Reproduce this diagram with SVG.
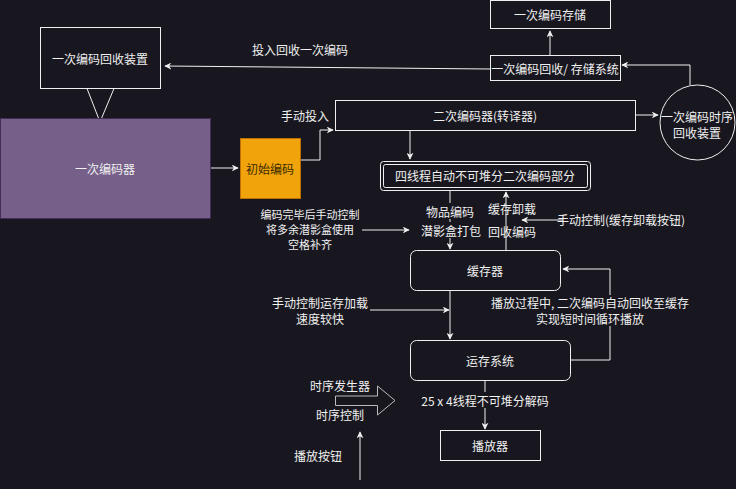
<svg xmlns="http://www.w3.org/2000/svg" width="736" height="489" viewBox="0 0 736 489">
<defs>
<marker id="arr" viewBox="0 0 10 10" refX="9" refY="5" markerWidth="7" markerHeight="7" orient="auto-start-reverse" markerUnits="userSpaceOnUse">
<path d="M0,0 L10,5 L0,10 L3,5 Z" fill="#f0f0f0"/>
</marker>
<style>
text{font-family:"Noto Sans CJK SC","Noto Sans",sans-serif;font-size:12px;fill:#f0f0f0;text-anchor:middle;dominant-baseline:central}
.sm{font-size:11px}
.box{fill:#18171f;stroke:#f0f0f0;stroke-width:1}
.edge{fill:none;stroke:#f0f0f0;stroke-width:1;marker-end:url(#arr)}
.line{fill:none;stroke:#f0f0f0;stroke-width:1}
.lbg{fill:#18171f}
</style>
</defs>
<rect width="736" height="489" fill="#18171f"/>

<g id="connectors">
<path class="edge" d="M550,55 L550,31"/>
<path class="edge" d="M490,69 L165,66" stroke="#cccccc"/>
<path class="edge" d="M210,168 L238,168"/>
<path class="edge" d="M300,160 L320,160 L320,130 L333,130"/>
<path class="edge" d="M636,115 L658,115"/>
<path class="edge" d="M690,85 L690,65 L622,65"/>
<path class="edge" d="M410,130 L410,159"/>
<path class="edge" d="M450,190 L450,249"/>
<path class="edge" d="M506,250 L506,192"/>
<path class="edge" d="M563,220 L522,220"/>
<path class="edge" d="M362,230 L409,230"/>
<path class="edge" d="M450,290 L450,339"/>
<path class="edge" d="M370,310 L449,310"/>
<path class="edge" d="M570,360 L610,360 L610,269 L563,269"/>
<path class="edge" d="M485,380 L485,429"/>
<path class="edge" d="M360,480 L360,432"/>
<rect class="lbg" x="426" y="203" width="48" height="16"/>
<text x="450" y="211">物品编码</text>
<rect class="lbg" x="421" y="222" width="60" height="16"/>
<text x="451" y="230">潜影盒打包</text>
<text x="512" y="208">缓存卸载</text>
<text x="512" y="231">回收编码</text>
<text x="300" y="49">投入回收一次编码</text>
<text x="305" y="115">手动投入</text>
<text x="621" y="219">手动控制(缓存卸载按钮)</text>
<text class="sm" x="310" y="214"><tspan x="310" y="214">编码完毕后手动控制</tspan><tspan x="310" y="229">将多余潜影盒使用</tspan><tspan x="310" y="244">空格补齐</tspan></text>
<text x="320" y="302"><tspan x="320" y="302">手动控制运存加载</tspan><tspan x="320" y="318">速度较快</tspan></text>
<rect class="lbg" x="497" y="295" width="186" height="31"/>
<text x="590" y="302"><tspan x="590" y="302">播放过程中, 二次编码自动回收至缓存</tspan><tspan x="590" y="318">实现短时间循环播放</tspan></text>
<rect class="lbg" x="426" y="392" width="119" height="16"/>
<text x="485" y="400">25 x 4线程不可堆分解码</text>
<text x="340" y="385">时序发生器</text>
<text x="340" y="414">时序控制</text>
<text x="318" y="455">播放按钮</text>
</g>

<g id="storage">
<rect class="box" x="490.5" y="0.5" width="120" height="28"/>
<text x="550" y="14">一次编码存储</text>
</g>
<g id="recycle-system">
<rect class="box" x="490.5" y="55.5" width="130" height="25"/>
<text x="555" y="68">一次编码回收/ 存储系统</text>
</g>
<g id="recycle-device">
<rect class="box" x="40.5" y="27.5" width="120" height="61" stroke="#aaaaaa"/>
<text x="100" y="58">一次编码回收装置</text>
<path d="M87,88.5 L100,122 L114,88.5" class="line" stroke="#dddddd"/>
</g>
<g id="encoder1">
<rect x="0.5" y="118.5" width="210" height="100" fill="#76608a" stroke="#432d57"/>
<text x="105" y="168">一次编码器</text>
</g>
<g id="init-code">
<rect x="240.5" y="138.5" width="60" height="60" fill="#f0a30a" stroke="#bd7000"/>
<text x="270" y="168" style="fill:#3a2a00">初始编码</text>
</g>
<g id="encoder2">
<rect class="box" x="335.5" y="100.5" width="300" height="30"/>
<text x="485" y="115">二次编码器(转译器)</text>
</g>
<g id="timing-recycle">
<circle class="box" cx="697.5" cy="122.5" r="37.5"/>
<text x="697" y="116"><tspan x="697" y="116">一次编码时序</tspan><tspan x="697" y="132">回收装置</tspan></text>
</g>
<g id="four-thread">
<rect class="box" x="380.5" y="161.5" width="210" height="29" rx="3"/>
<rect class="box" x="383.5" y="164.5" width="204" height="23" rx="2"/>
<text x="485" y="175">四线程自动不可堆分二次编码部分</text>
</g>
<g id="cache">
<rect class="box" x="410.5" y="250.5" width="150" height="40" rx="6"/>
<text x="485" y="270">缓存器</text>
</g>
<g id="ram">
<rect class="box" x="410.5" y="340.5" width="160" height="40" rx="6"/>
<text x="490" y="360">运存系统</text>
</g>
<g id="player">
<rect class="box" x="440.5" y="430.5" width="100" height="30"/>
<text x="490" y="445">播放器</text>
</g>
<g id="timing-arrow">
<path d="M335.5,396 L377.5,396 L377.5,386 L395,400.5 L377.5,415 L377.5,405.5 L335.5,405.5 Z" fill="#18171f" stroke="#bbbbbb"/>
</g>
</svg>
